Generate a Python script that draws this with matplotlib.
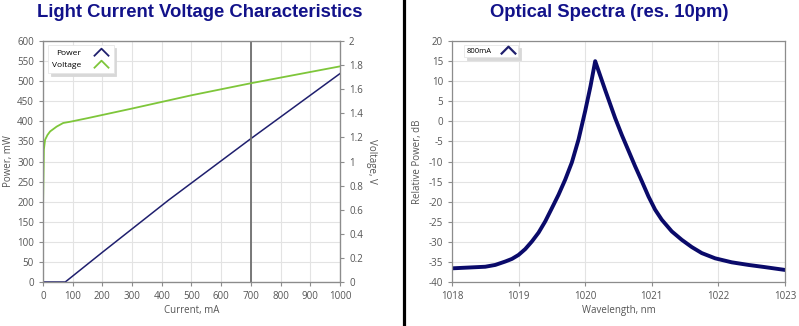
import matplotlib.pyplot as plt
from matplotlib.path import Path
from matplotlib.lines import Line2D

# LIV data
current_p = [0, 75, 200, 423, 700, 1000]
power_mw = [0, 0, 74, 204, 357, 519]
current_v = [0, 0, 3, 7, 15, 24, 46, 68, 91, 150, 300, 500, 700, 1000]
voltage_v = [0.14, 0.6, 1.1, 1.18, 1.22, 1.25, 1.29, 1.32, 1.33, 1.36, 1.44, 1.55, 1.65, 1.79]
cursor_ma = 700

# spectrum data
wavelength_nm = [1018.0, 1018.25, 1018.5, 1018.65, 1018.8, 1018.9, 1019.0, 1019.1,
                 1019.2, 1019.3, 1019.4, 1019.5, 1019.6, 1019.7, 1019.8, 1019.9,
                 1020.0, 1020.08, 1020.15, 1020.3, 1020.45, 1020.55, 1020.65,
                 1020.75, 1020.85, 1020.95, 1021.05, 1021.15, 1021.3, 1021.45,
                 1021.6, 1021.75, 1021.95, 1022.2, 1022.45, 1022.7, 1023.0]
rel_power_db = [-36.6, -36.4, -36.2, -35.75, -34.9, -34.25, -33.25, -31.8,
                -29.9, -27.7, -24.9, -21.6, -18.25, -14.5, -10.2, -4.5,
                2.6, 8.8, 15.0, 7.8, 0.8, -3.4, -7.3,
                -11.2, -14.9, -18.7, -22.0, -24.5, -27.4, -29.5,
                -31.3, -32.8, -34.1, -35.1, -35.75, -36.3, -37.0]

plt.rcParams['axes.unicode_minus'] = False
plt.rcParams['font.family'] = ['Open Sans', 'DejaVu Sans']

TICK = '#555555'
SPINE = '#8c8c8c'
GRID = '#e3e3e3'
NAVY = '#1f1f6e'
GREEN = '#7ec63a'
TITLE = '#12128a'

chevron = Path([(-1, -0.5), (0, 0.5), (1, -0.5)],
               [Path.MOVETO, Path.LINETO, Path.LINETO])


def style(ax):
    for s in ax.spines.values():
        s.set_color(SPINE)
        s.set_linewidth(0.9)
    ax.tick_params(colors=SPINE, labelcolor=TICK, labelsize=7, length=3, width=0.8)
    ax.grid(True, color=GRID, linewidth=0.8)
    ax.set_axisbelow(True)


def chev(color, lw):
    return Line2D([], [], linestyle='none', marker=chevron, markersize=11,
                  fillstyle='none', markeredgecolor=color, markeredgewidth=lw)


fig = plt.figure(figsize=(7.99, 3.26), dpi=100)

# left panel
ax1 = fig.add_axes([0.0538, 0.135, 0.3717, 0.739])
style(ax1)
ax1.plot(current_p, power_mw, color=NAVY, linewidth=1.1)
ax1.set_xlim(0, 1000)
ax1.set_ylim(0, 600)
ax1.set_xticks(range(0, 1001, 100))
ax1.set_yticks(range(0, 601, 50))
ax1.set_xlabel('Current, mA', fontsize=7, color=TICK, labelpad=2)
ax1.set_ylabel('Power, mW', fontsize=7, color=TICK, labelpad=2)
ax1.axvline(cursor_ma, color='#6e6e6e', linewidth=1.3)

ax1b = ax1.twinx()
ax1b.plot(current_v, voltage_v, color=GREEN, linewidth=1.3)
ax1b.set_ylim(0, 2)
ax1b.set_yticks([0, 0.2, 0.4, 0.6, 0.8, 1, 1.2, 1.4, 1.6, 1.8, 2])
ax1b.set_yticklabels(['0', '0.2', '0.4', '0.6', '0.8', '1', '1.2', '1.4', '1.6', '1.8', '2'])
for s in ax1b.spines.values():
    s.set_color(SPINE)
ax1b.tick_params(colors=SPINE, labelcolor=TICK, labelsize=7, length=3, width=0.8)
ax1b.set_ylabel('Voltage, V', fontsize=7, color=TICK, rotation=-90, labelpad=10)

leg1 = ax1b.legend([chev(NAVY, 1.3), chev(GREEN, 1.3)], ['Power', 'Voltage'],
                   loc='upper left', markerfirst=False, fontsize=6, frameon=True,
                   fancybox=False, shadow={'color': '#d8d8d8', 'alpha': 1},
                   borderpad=0.5, handletextpad=1.4, labelspacing=0.5,
                   bbox_to_anchor=(0.002, 1.0))
leg1.get_frame().set_edgecolor('#e6e6e6')
leg1.get_frame().set_linewidth(0.6)

fig.text(0.250, 0.963, 'Light Current Voltage Characteristics', ha='center', va='center',
         fontsize=13.3, fontweight='bold', color=TITLE, family='Liberation Sans')

# divider
fig.add_artist(Line2D([0.5056, 0.5056], [0, 1], transform=fig.transFigure,
                      color='black', linewidth=2.3))

# right panel
ax2 = fig.add_axes([0.5657, 0.135, 0.4168, 0.739])
style(ax2)
ax2.plot(wavelength_nm, rel_power_db, color='#0a0a6a', linewidth=2.8,
         solid_joinstyle='round')
ax2.set_xlim(1018, 1023)
ax2.set_ylim(-40, 20)
ax2.set_xticks(range(1018, 1024))
ax2.set_yticks(range(-40, 21, 5))
ax2.set_xlabel('Wavelength, nm', fontsize=7, color=TICK, labelpad=2)
ax2.set_ylabel('Relative Power, dB', fontsize=7, color=TICK, labelpad=4)
ax2.tick_params(right=False)

leg2 = ax2.legend([chev(NAVY, 1.6)], ['800mA'], loc='upper left', markerfirst=False,
                  fontsize=5.5, frameon=True, fancybox=False,
                  shadow={'color': '#d8d8d8', 'alpha': 1},
                  borderpad=0.3, handletextpad=1.2, bbox_to_anchor=(0.025, 1.0))
leg2.get_frame().set_edgecolor('#e6e6e6')
leg2.get_frame().set_linewidth(0.6)

fig.text(0.763, 0.963, 'Optical Spectra (res. 10pm)', ha='center', va='center',
         fontsize=13.3, fontweight='bold', color=TITLE, family='Liberation Sans')

fig.savefig('out.png', dpi=100)
